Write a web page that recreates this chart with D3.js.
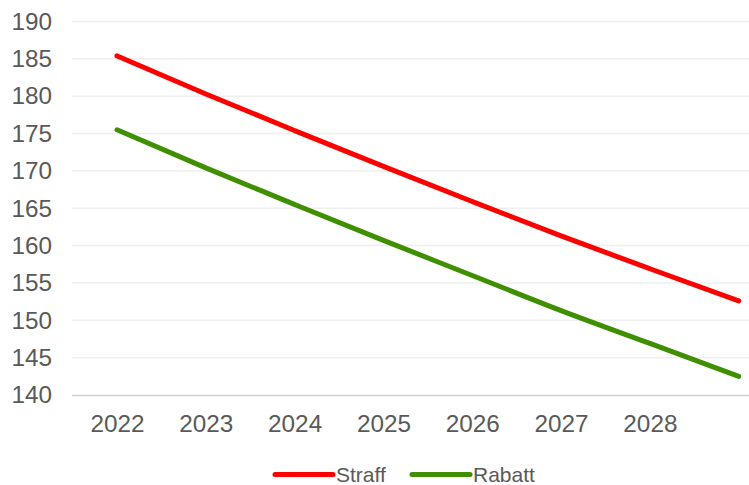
<!DOCTYPE html>
<html>
<head>
<meta charset="utf-8">
<script src="https://cdn.jsdelivr.net/npm/d3@7"></script>
<style>
  html, body { margin: 0; padding: 0; background: #fff; }
  svg { display: block; font-family: "Liberation Sans", Arial, sans-serif; }
</style>
</head>
<body>
<svg id="chart" width="749" height="485"></svg>
<script>
const categories = ["2022", "2023", "2024", "2025", "2026", "2027", "2028", "2029"];
const tickLabels = ["2022", "2023", "2024", "2025", "2026", "2027", "2028"];
const straff = [185.4, 180.3, 175.4, 170.6, 165.9, 161.3, 156.9, 152.6];
const rabatt = [175.5, 170.4, 165.5, 160.7, 156.0, 151.3, 146.9, 142.5];
const yTicks = [140, 145, 150, 155, 160, 165, 170, 175, 180, 185, 190];
const seriesNames = ["Straff", "Rabatt"];
const seriesColors = ["#ff0000", "#3f8f00"];

(function () {
const svg = d3.select("#chart");
const plotLeft = 72, plotRight = 749, plotTop = 21.5, plotBottom = 395;

const x = d3.scalePoint().domain(categories).range([117, 738.7]);
const y = d3.scaleLinear().domain([140, 190]).range([plotBottom, plotTop]);

// gridlines
svg.append("g").selectAll("line").data(yTicks.filter(t => t !== 140)).join("line")
  .attr("x1", plotLeft).attr("x2", plotRight)
  .attr("y1", d => y(d)).attr("y2", d => y(d))
  .attr("stroke", "#efefef").attr("stroke-width", 1.5);

// y axis labels
const yAxis = svg.append("g").attr("transform", `translate(${plotLeft},0)`)
  .call(d3.axisLeft(y).tickValues(yTicks).tickSize(0).tickPadding(20));
yAxis.select(".domain").remove();
yAxis.selectAll("text").attr("font-size", 24.3).attr("fill", "#595959")
  .attr("font-family", "'Liberation Sans', Arial, sans-serif");

// x axis
const xAxis = svg.append("g").attr("transform", `translate(0,${plotBottom})`)
  .call(d3.axisBottom(x).tickValues(tickLabels).tickSize(0).tickPadding(20));
xAxis.select(".domain").attr("d", `M${plotLeft},0.5H${plotRight}`).attr("stroke", "#d0d0d0").attr("stroke-width", 1.5);
xAxis.selectAll("text").attr("font-size", 24.3).attr("fill", "#595959")
  .attr("font-family", "'Liberation Sans', Arial, sans-serif");

// lines
const line = d3.line().x((d, i) => x(categories[i])).y(d => y(d)).curve(d3.curveMonotoneX);
[straff, rabatt].forEach((vals, k) => {
  svg.append("path").datum(vals)
    .attr("d", line)
    .attr("fill", "none")
    .attr("stroke", seriesColors[k])
    .attr("stroke-width", 5)
    .attr("stroke-linecap", "round")
    .attr("stroke-linejoin", "round");
});

// legend
const legendX = [275, 412];
seriesNames.forEach((name, k) => {
  const g = svg.append("g").attr("transform", `translate(${legendX[k]},474.5)`);
  g.append("line").attr("x1", 0).attr("x2", 58).attr("y1", 0).attr("y2", 0)
    .attr("stroke", seriesColors[k]).attr("stroke-width", 5).attr("stroke-linecap", "round");
  g.append("text").attr("x", 61).attr("y", 0).attr("dominant-baseline", "central").text(name)
    .attr("font-size", 21).attr("fill", "#595959")
    .attr("font-family", "'Liberation Sans', Arial, sans-serif");
});
})();
</script>
</body>
</html>
